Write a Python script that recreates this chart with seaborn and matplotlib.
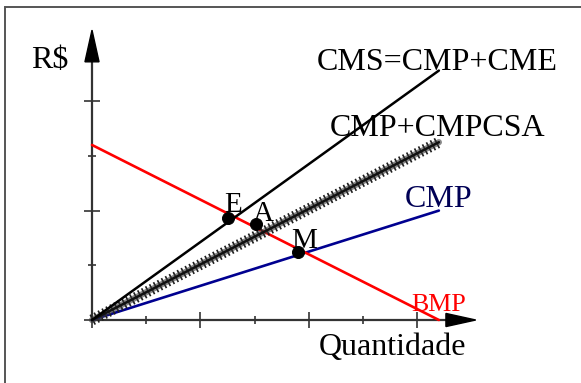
import matplotlib
matplotlib.use("Agg")
import matplotlib.pyplot as plt
from matplotlib.patches import Rectangle
from matplotlib.ticker import FixedLocator
import seaborn as sns
import pandas as pd

# ---- data ----
quantity = [0.0, 6.4]
cms = [0.0, 4.56]          # CMS=CMP+CME
cmp_csa = [0.0, 3.25]      # CMP+CMPCSA
cmp_ = [0.0, 2.0]          # CMP
bmp = [3.2, 0.0]           # BMP

point_names = ["E", "A", "M"]
point_x = [2.51, 3.03, 3.80]
point_y = [1.865, 1.755, 1.243]

x_major = [0, 2, 4, 6]
x_minor = [1, 3, 5]
y_major = [0, 2, 4]
y_minor = [1, 3]

sns.set_theme(style="white")
plt.rcParams["font.family"] = ["Liberation Serif", "DejaVu Serif"]
plt.rcParams["lines.scale_dashes"] = False

W, H = 581, 383
fig = plt.figure(figsize=(W / 100, H / 100), dpi=100)
ax = fig.add_axes([0, 0, 1, 1])
ax.set_facecolor("white")

ux, uy = 54.2, 54.7
ox, oy = 92, 320
ax.set_xlim(-ox / ux, (W - ox) / ux)
ax.set_ylim(-(H - oy) / uy, oy / uy)

df = pd.DataFrame({"q": quantity, "cms": cms, "csa": cmp_csa, "cmp": cmp_, "bmp": bmp})

# lines
sns.lineplot(data=df, x="q", y="cmp", color="#000090", linewidth=1.9, ax=ax)
sns.lineplot(data=df, x="q", y="bmp", color="#ff0000", linewidth=1.9, ax=ax)
sns.lineplot(data=df, x="q", y="csa", color="#1e1e1e", linewidth=8.0, ax=ax,
             dashes=False, linestyle=(0, (1.2, 2.0)))
sns.lineplot(data=df, x="q", y="csa", color="#3a3a3a", linewidth=4.5, ax=ax, alpha=0.6)
sns.lineplot(data=df, x="q", y="csa", color="#111111", linewidth=1.8, ax=ax)
sns.lineplot(data=df, x="q", y="cms", color="black", linewidth=1.8, ax=ax)

# points
pts = pd.DataFrame({"x": point_x, "y": point_y, "n": point_names})
sns.scatterplot(data=pts, x="x", y="y", color="black", s=75, ax=ax, zorder=5,
                edgecolor="black")

# axes as spines through the origin
for s in ["top", "right"]:
    ax.spines[s].set_visible(False)
ax.spines["left"].set_position(("data", 0))
ax.spines["bottom"].set_position(("data", 0))
ax.spines["left"].set_bounds(0, 4.72)
ax.spines["bottom"].set_bounds(0, 6.53)
for s in ["left", "bottom"]:
    ax.spines[s].set_color("#333333")
    ax.spines[s].set_linewidth(1.6)
    ax.spines[s].set_zorder(1)

ax.xaxis.set_major_locator(FixedLocator(x_major))
ax.xaxis.set_minor_locator(FixedLocator(x_minor))
ax.yaxis.set_major_locator(FixedLocator(y_major))
ax.yaxis.set_minor_locator(FixedLocator(y_minor))
ax.tick_params(which="major", direction="inout", length=11.5, width=1.2,
               color="#333333", labelbottom=False, labelleft=False,
               bottom=True, left=True)
ax.tick_params(which="minor", direction="inout", length=5.8, width=1.2,
               color="#333333", bottom=True, left=True)
ax.set_xlabel("")
ax.set_ylabel("")

# arrow heads
ax.arrow(6.53, 0, 0.55, 0, width=0, head_width=0.24, head_length=0.55,
         length_includes_head=True, color="black", zorder=3)
ax.arrow(0, 4.72, 0, 0.58, width=0, head_width=0.26, head_length=0.58,
         length_includes_head=True, color="black", zorder=3)

# labels
big = 23
ax.text(4.15, 4.57, "CMS=CMP+CME", fontsize=big, color="black", va="baseline")
ax.text(4.39, 3.36, "CMP+CMPCSA", fontsize=big, color="black", va="baseline")
ax.text(5.77, 2.07, "CMP", fontsize=big, color="#000055", va="baseline")
ax.text(5.90, 0.165, "BMP", fontsize=18.7, color="#ff0000", va="baseline")
ax.text(4.19, -0.64, "Quantidade", fontsize=big, color="black", va="baseline")
ax.text(-1.125, 4.61, "R$", fontsize=big, color="black", va="baseline")
label_pos = [(2.44, 1.97), (2.97, 1.81), (3.67, 1.32)]
for name, (lx, ly) in zip(point_names, label_pos):
    ax.text(lx, ly, name, fontsize=21, color="black", va="baseline", zorder=6)

# outer frame
fig.add_artist(Rectangle((5 / W, -0.1), 1.2, 1.1 - 7 / H, transform=fig.transFigure,
                         fill=False, edgecolor="#555555", linewidth=1.4))

fig.savefig("out.png", dpi=100)
